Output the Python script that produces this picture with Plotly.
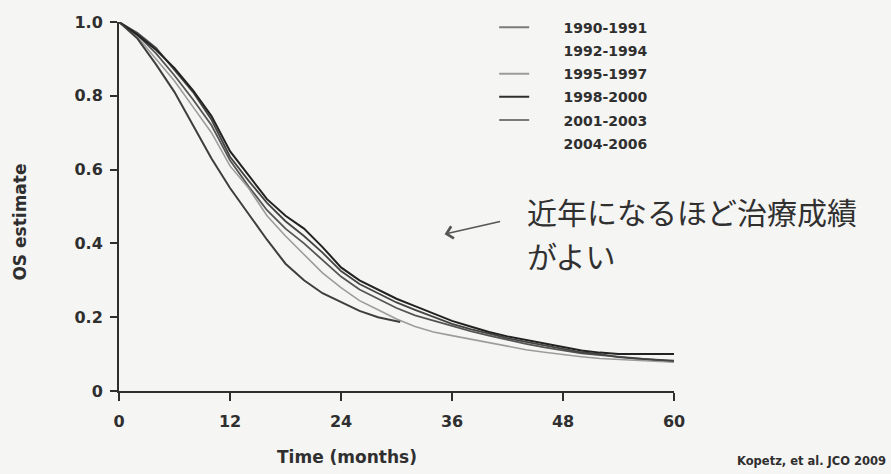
import plotly.graph_objects as go

# ---- data ----
months = [0, 2, 4, 6, 8, 10, 12, 14, 16, 18, 20, 22, 24, 26, 28, 30,
          32, 34, 36, 38, 40, 42, 44, 46, 48, 50, 52, 54, 56, 58, 60]

os_1998_2000 = [1.0, 0.965, 0.925, 0.875, 0.815, 0.745, 0.65, 0.585, 0.52, 0.475, 0.44,
                0.39, 0.335, 0.30, 0.275, 0.25, 0.23, 0.21, 0.19, 0.175, 0.16, 0.148,
                0.138, 0.128, 0.118, 0.11, 0.104, 0.10, 0.10, 0.10, 0.10]
os_2001_2003 = [1.0, 0.97, 0.93, 0.87, 0.81, 0.735, 0.635, 0.57, 0.51, 0.46, 0.42,
                0.375, 0.325, 0.29, 0.265, 0.24, 0.22, 0.20, 0.182, 0.168, 0.155, 0.143,
                0.133, 0.123, 0.113, 0.105, 0.10, 0.092, 0.088, 0.085, 0.082]
os_1995_1997 = [1.0, 0.96, 0.90, 0.84, 0.77, 0.70, 0.61, 0.55, 0.475, 0.42, 0.37,
                0.32, 0.28, 0.245, 0.22, 0.195, 0.175, 0.16, 0.15, 0.14, 0.13, 0.12,
                0.112, 0.105, 0.098, 0.093, 0.088, 0.085, 0.082, 0.08, 0.078]
os_1990_1991 = [1.0, 0.965, 0.915, 0.855, 0.79, 0.72, 0.625, 0.555, 0.49, 0.44, 0.40,
                0.355, 0.31, 0.275, 0.25, 0.225, 0.205, 0.19, 0.175, 0.162, 0.15, 0.138,
                0.128, 0.118, 0.11, 0.102, 0.097, 0.092, 0.088, 0.084, 0.08]
months_2004_2006 = [0, 2, 4, 6, 8, 10, 12, 14, 16, 18, 20, 22, 24, 26, 28, 30.4]
os_2004_2006 = [1.0, 0.955, 0.885, 0.81, 0.72, 0.63, 0.55, 0.48, 0.41, 0.345, 0.30,
                0.265, 0.24, 0.217, 0.20, 0.187]

legend_names = ["1990-1991", "1992-1994", "1995-1997", "1998-2000", "2001-2003", "2004-2006"]
legend_colors = ["#7a7a7a", "rgba(0,0,0,0)", "#9a9a9a", "#2e2e2e", "#7a7a7a", "rgba(0,0,0,0)"]

x_ticks = [0, 12, 24, 36, 48, 60]
y_ticks = [0, 0.2, 0.4, 0.6, 0.8, 1.0]
y_ticktext = ["0", "0.2", "0.4", "0.6", "0.8", "1.0"]

FONT = "DejaVu Sans"
INK = "#2f2f2f"
BG = "#f5f5f3"

fig = go.Figure()

curves = [
    (months, os_1990_1991, "#555555", 1.8),
    (months, os_1995_1997, "#9c9c9c", 1.6),
    (months, os_2001_2003, "#444444", 1.8),
    (months, os_1998_2000, "#222222", 2.0),
    (months_2004_2006, os_2004_2006, "#3e3e3e", 2.0),
]
for xs, ys, col, w in curves:
    fig.add_trace(go.Scatter(x=xs, y=ys, mode="lines", showlegend=False,
                             line=dict(color=col, width=w), hoverinfo="skip"))

PAD = "\u00a0" * 6
for i, (name, col) in enumerate(zip(legend_names, legend_colors)):
    fig.add_trace(go.Scatter(x=[None], y=[None], mode="lines", name=PAD + name,
                             legendgroup="g%d" % i,
                             line=dict(color=col, width=2)))

fig.update_layout(
    width=891, height=474,
    margin=dict(l=119, r=217, t=17, b=83),
    paper_bgcolor=BG, plot_bgcolor=BG,
    font=dict(family=FONT, color=INK),
    legend=dict(x=0.676, y=1.028, xanchor="left", yanchor="top",
                bgcolor="rgba(0,0,0,0)", itemwidth=30, tracegroupgap=2,
                font=dict(family=FONT, size=14, color=INK, weight="bold")),
    xaxis=dict(range=[0, 60], tickvals=x_ticks, showgrid=False, zeroline=False,
               showline=True, linecolor=INK, linewidth=2,
               ticks="outside", ticklen=8, tickwidth=2, tickcolor=INK,
               ticklabelstandoff=7,
               tickfont=dict(family=FONT, size=16, color=INK, weight="bold")),
    yaxis=dict(range=[0, 1.0], tickvals=y_ticks, ticktext=y_ticktext,
               showgrid=False, zeroline=False,
               showline=True, linecolor=INK, linewidth=2,
               ticks="outside", ticklen=7, tickwidth=2, tickcolor=INK,
               ticklabelstandoff=4,
               tickfont=dict(family=FONT, size=16, color=INK, weight="bold")),
)

fig.add_annotation(text="OS estimate", xref="paper", yref="paper",
                   x=-0.178, y=0.457, xanchor="center", yanchor="middle",
                   textangle=-90, showarrow=False,
                   font=dict(family=FONT, size=17, color=INK, weight="bold"))
fig.add_annotation(text="Time (months)", xref="paper", yref="paper",
                   x=0.411, y=-0.179, xanchor="center", yanchor="middle",
                   showarrow=False,
                   font=dict(family=FONT, size=17, color=INK, weight="bold"))
fig.add_annotation(text="Kopetz, et al. JCO 2009", xref="paper", yref="paper",
                   x=1.386, y=-0.19, xanchor="right", yanchor="middle",
                   showarrow=False,
                   font=dict(family=FONT, size=11.5, color=INK, weight="bold"))

JP = "Noto Sans CJK JP"
fig.add_annotation(text="近年になるほど治療成績", xref="paper", yref="paper",
                   x=0.732, y=0.4866, xanchor="left", yanchor="middle",
                   showarrow=False,
                   font=dict(family=JP, size=30, color="#303030"))
fig.add_annotation(text="がよい", xref="paper", yref="paper",
                   x=0.732, y=0.369, xanchor="left", yanchor="middle",
                   showarrow=False,
                   font=dict(family=JP, size=30, color="#303030"))
fig.add_annotation(text="", x=35.2, y=0.425, xref="x", yref="y",
                   ax=57, ay=-13, showarrow=True, arrowhead=4, arrowsize=1.6,
                   arrowwidth=1.5, arrowcolor="#555555")

fig.write_html("out.html")
